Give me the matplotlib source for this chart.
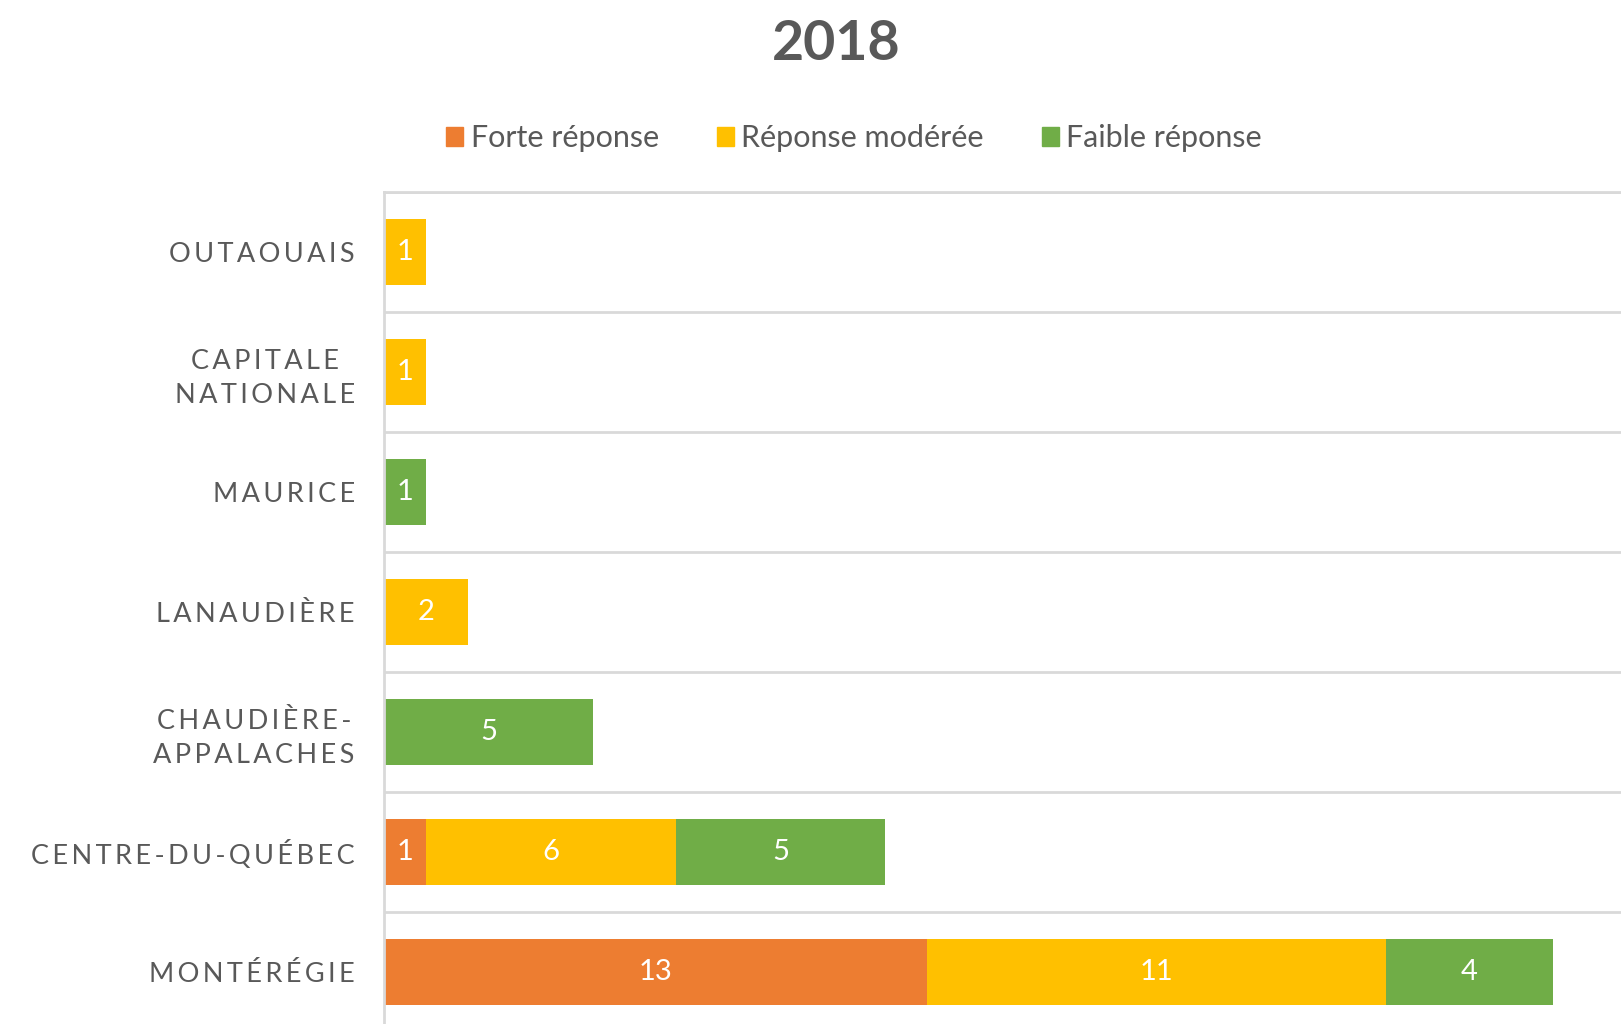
import matplotlib.pyplot as plt
from matplotlib.patches import Patch
import numpy as np

# data
regions = ["OUTAOUAIS", "CAPITALE\nNATIONALE", "MAURICE", "LANAUDIÈRE",
           "CHAUDIÈRE-\nAPPALACHES", "CENTRE-DU-QUÉBEC", "MONTÉRÉGIE"]
forte = [0, 0, 0, 0, 0, 1, 13]
moderee = [1, 1, 0, 2, 0, 6, 11]
faible = [0, 0, 1, 0, 5, 5, 4]
series_names = ["Forte réponse", "Réponse modérée", "Faible réponse"]
colors = ["#ED7D31", "#FFC000", "#70AD47"]

plt.rcParams['font.family'] = ['Lato', 'DejaVu Sans']
GRAY = "#595959"


def spaced(label):
    # Excel-like letter spacing, kept line by line
    return "\n".join("\u2009".join(line) for line in label.split("\n"))


fig = plt.figure(figsize=(16.21, 10.24), dpi=100)
ax = fig.add_axes([0.2369, -0.0078, 0.7727, 0.8203])

y = np.arange(len(regions))
left = np.zeros(len(regions))
for vals, name, col in zip([forte, moderee, faible], series_names, colors):
    bars = ax.barh(y, vals, left=left, height=0.55, color=col, label=name)
    labels = [str(v) if v > 0 else "" for v in vals]
    ax.bar_label(bars, labels=labels, label_type='center', color='white', fontsize=21)
    left += np.array(vals)

ax.set_xlim(0, 30)
ax.set_ylim(len(regions) - 0.5, -0.5)
ax.set_xticks([])
ax.set_yticks(y)
ax.set_yticklabels([spaced(r) for r in regions], fontsize=19.5, color=GRAY,
                   linespacing=1.45, multialignment='center')
ax.tick_params(axis='y', length=0, pad=21)

ax.set_yticks(np.arange(-0.5, len(regions), 1), minor=True)
ax.tick_params(axis='y', which='minor', length=0)
ax.grid(which='minor', axis='y', color="#D9D9D9", linewidth=2)
ax.set_axisbelow(True)

for s in ['right', 'bottom']:
    ax.spines[s].set_visible(False)
ax.spines['top'].set_color("#D9D9D9")
ax.spines['top'].set_linewidth(2)
ax.spines['left'].set_color("#D9D9D9")
ax.spines['left'].set_linewidth(2)

fig.text(0.516, 0.957, "2018", ha='center', va='center', fontsize=40,
         fontweight='bold', color=GRAY)

handles = [Patch(color=c) for c in colors]
fig.legend(handles, series_names, loc='center', bbox_to_anchor=(0.527, 0.865),
           ncol=3, frameon=False, fontsize=22, labelcolor=GRAY,
           handlelength=0.55, handleheight=0.55, handletextpad=0.25,
           columnspacing=1.9)

fig.savefig("out.png", dpi=100)
